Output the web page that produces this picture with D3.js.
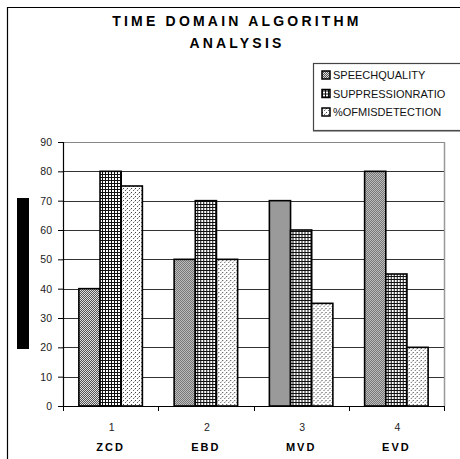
<!DOCTYPE html>
<html>
<head>
<meta charset="utf-8">
<script src="https://cdn.jsdelivr.net/npm/d3@7"></script>
<style>
  html, body { margin: 0; padding: 0; background: #fff; }
  svg { display: block; font-family: "Liberation Sans", Arial, sans-serif; }
</style>
</head>
<body>
<svg id="chart" width="460" height="459"></svg>
<script>
// Chart data
const categories = ["1", "2", "3", "4"];
const algorithmNames = ["ZCD", "EBD", "MVD", "EVD"];
const seriesNames = ["SPEECHQUALITY", "SUPPRESSIONRATIO", "%OFMISDETECTION"];
const speechQuality = [40, 50, 70, 80];
const suppressionRatio = [80, 70, 60, 45];
const misDetection = [75, 50, 35, 20];
const yTicks = [0, 10, 20, 30, 40, 50, 60, 70, 80, 90];
const titleLines = ["TIME DOMAIN ALGORITHM", "ANALYSIS"];

const seriesValues = [speechQuality, suppressionRatio, misDetection];
const patternIds = ["pat-speech", "pat-supp", "pat-mis"];

const svg = d3.select("#chart");

// Fill patterns for the three series
const defs = svg.append("defs");
// fine grey checker
const p1 = defs.append("pattern").attr("id", "pat-speech")
  .attr("patternUnits", "userSpaceOnUse").attr("width", 2).attr("height", 2);
p1.append("rect").attr("width", 2).attr("height", 2).attr("fill", "#dedede");
p1.append("rect").attr("width", 1).attr("height", 1).attr("fill", "#555");
p1.append("rect").attr("x", 1).attr("y", 1).attr("width", 1).attr("height", 1).attr("fill", "#555");
// square grid
const p2 = defs.append("pattern").attr("id", "pat-supp")
  .attr("patternUnits", "userSpaceOnUse").attr("width", 3).attr("height", 3);
p2.append("rect").attr("width", 3).attr("height", 3).attr("fill", "#fff");
p2.append("rect").attr("width", 3).attr("height", 1).attr("fill", "#111");
p2.append("rect").attr("width", 1).attr("height", 3).attr("fill", "#111");
// sparse dots
const p3 = defs.append("pattern").attr("id", "pat-mis")
  .attr("patternUnits", "userSpaceOnUse").attr("width", 4).attr("height", 4);
p3.append("rect").attr("width", 4).attr("height", 4).attr("fill", "#fff");
p3.append("rect").attr("width", 1).attr("height", 1).attr("fill", "#444");
p3.append("rect").attr("x", 2).attr("y", 2).attr("width", 1).attr("height", 1).attr("fill", "#666");
p3.append("rect").attr("x", 3).attr("y", 1).attr("width", 1).attr("height", 1).attr("fill", "#bbb");

// Outer frame (top and left edges visible)
svg.append("line").attr("x1", 7.5).attr("x2", 7.5).attr("y1", 7).attr("y2", 459)
  .attr("stroke", "#000").attr("stroke-width", 1.2);
svg.append("line").attr("x1", 7).attr("x2", 460).attr("y1", 7.5).attr("y2", 7.5)
  .attr("stroke", "#000").attr("stroke-width", 1.2);

// Title
const title = svg.append("text")
  .attr("text-anchor", "middle")
  .attr("font-weight", "bold")
  .attr("font-size", 14)
  .attr("letter-spacing", "3.2px");
title.selectAll("tspan").data(titleLines).join("tspan")
  .attr("x", 237)
  .attr("y", (d, i) => 26 + i * 22)
  .text(d => d);

// Scales
const plot = { left: 63, right: 444, top: 142, bottom: 406 };
const x = d3.scaleBand().domain(categories).range([plot.left, plot.right]).padding(0);
const xs = d3.scaleBand().domain(d3.range(seriesNames.length))
  .range([0, x.bandwidth()]).paddingInner(0).paddingOuter(0.75);
const y = d3.scaleLinear().domain([0, 90]).range([plot.bottom, plot.top]);

// Gridlines
svg.append("g").selectAll("line").data(yTicks.filter(t => t > 0 && t < 90)).join("line")
  .attr("x1", plot.left).attr("x2", plot.right)
  .attr("y1", d => Math.round(y(d)) + 0.5).attr("y2", d => Math.round(y(d)) + 0.5)
  .attr("stroke", "#333").attr("stroke-width", 1);
// Plot area top and right edges
svg.append("line").attr("x1", plot.left).attr("x2", plot.right + 0.5)
  .attr("y1", plot.top + 0.5).attr("y2", plot.top + 0.5)
  .attr("stroke", "#888").attr("stroke-width", 1.2);
svg.append("line").attr("x1", plot.right + 0.5).attr("x2", plot.right + 0.5)
  .attr("y1", plot.top).attr("y2", plot.bottom)
  .attr("stroke", "#999").attr("stroke-width", 1.5);

// Bars
const groups = svg.append("g").selectAll("g").data(categories).join("g")
  .attr("transform", d => `translate(${x(d)},0)`);
groups.selectAll("rect")
  .data((d, i) => seriesValues.map((vals, s) => ({ s, v: vals[i] })))
  .join("rect")
  .attr("x", d => xs(d.s))
  .attr("width", xs.bandwidth())
  .attr("y", d => y(d.v))
  .attr("height", d => y(0) - y(d.v))
  .attr("fill", d => `url(#${patternIds[d.s]})`)
  .attr("stroke", "#000")
  .attr("stroke-width", 1.6);

// Y axis
const yAxis = d3.axisLeft(y).tickValues(yTicks).tickSize(5).tickPadding(6);
const gy = svg.append("g").attr("transform", `translate(${plot.left},0)`).call(yAxis);
gy.select(".domain").attr("stroke", "#000").attr("stroke-width", 1.2);
gy.selectAll(".tick line").attr("stroke", "#000");
gy.selectAll(".tick text").attr("font-size", 10.5)
  .attr("font-family", "Liberation Sans, Arial, sans-serif").attr("fill", "#222");

// X axis with ticks at category boundaries
const gx = svg.append("g").attr("transform", `translate(0,${plot.bottom})`);
gx.append("line").attr("x1", plot.left).attr("x2", plot.right + 1)
  .attr("y1", 0.5).attr("y2", 0.5).attr("stroke", "#000").attr("stroke-width", 1.2);
const boundaries = categories.map(c => x(c)).concat([x(categories[categories.length - 1]) + x.bandwidth()]);
gx.selectAll("line.tk").data(boundaries).join("line").attr("class", "tk")
  .attr("x1", d => Math.round(d) + 0.5).attr("x2", d => Math.round(d) + 0.5)
  .attr("y1", 0).attr("y2", 5).attr("stroke", "#000");
gx.selectAll("text.num").data(categories).join("text").attr("class", "num")
  .attr("x", d => x(d) + x.bandwidth() / 2 + 1)
  .attr("y", 25)
  .attr("text-anchor", "middle")
  .attr("font-size", 10.5)
  .attr("fill", "#222")
  .text(d => d);
gx.selectAll("text.name").data(algorithmNames).join("text").attr("class", "name")
  .attr("x", (d, i) => x(categories[i]) + x.bandwidth() / 2)
  .attr("y", 45)
  .attr("text-anchor", "middle")
  .attr("font-size", 11)
  .attr("font-weight", "bold")
  .attr("letter-spacing", "2px")
  .text(d => d);

// Solid block left of the axis
svg.append("rect").attr("x", 17).attr("y", 198).attr("width", 12).attr("height", 151)
  .attr("fill", "#000");

// Legend
const legend = svg.append("g");
legend.append("rect").attr("x", 313.5).attr("y", 63.5).attr("width", 160).attr("height", 67)
  .attr("fill", "#fff").attr("stroke", "#444").attr("stroke-width", 1.2);
legend.append("line").attr("x1", 313).attr("x2", 460).attr("y1", 131).attr("y2", 131)
  .attr("stroke", "#555").attr("stroke-width", 1.2);
const items = legend.selectAll("g.item").data(seriesNames).join("g").attr("class", "item")
  .attr("transform", (d, i) => `translate(322,${75 + i * 18.5})`);
items.append("rect").attr("x", 0).attr("y", -4).attr("width", 8).attr("height", 8)
  .attr("fill", (d, i) => `url(#${patternIds[i]})`)
  .attr("stroke", "#000").attr("stroke-width", 1.5);
items.append("text").attr("x", 11).attr("y", 4)
  .attr("font-size", 11)
  .attr("fill", "#111")
  .text(d => d);
</script>
</body>
</html>
